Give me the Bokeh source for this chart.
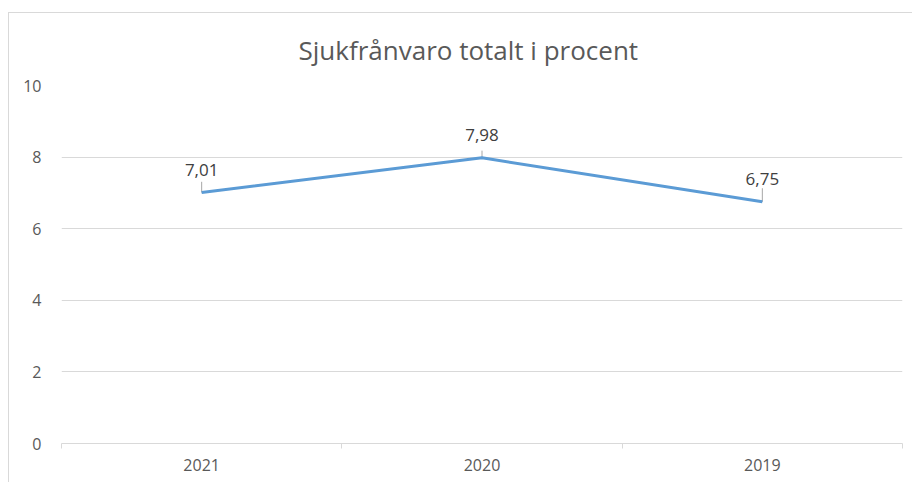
from bokeh.plotting import figure
from bokeh.models import ColumnDataSource, FixedTicker, Range1d
from bokeh.embed import file_html
from bokeh.resources import INLINE
from bokeh.core.properties import value

# Data
years = ["2021", "2020", "2019"]
sick_leave = [7.01, 7.98, 6.75]
labels = ["7,01", "7,98", "6,75"]
y_ticks = [0, 2, 4, 6, 8, 10]
leader_len = [0.3, 0.2, 0.38]

xs = [i + 0.5 for i in range(len(years))]
src = ColumnDataSource(dict(x=xs, y=sick_leave, label=labels))

FONT = "Open Sans"
GRAY = "#595959"

p = figure(width=904, height=470, output_backend="svg", toolbar_location=None,
           x_range=Range1d(0, len(years)), y_range=Range1d(0, 10),
           min_border_left=53, min_border_right=10, min_border_top=71, min_border_bottom=39,
           border_fill_color=None, outline_line_color=None,
           title="Sjukfrånvaro totalt i procent")
p.styles = {"margin-left": "8px", "margin-top": "12px",
            "box-shadow": "inset 1px 1px 0 #d9d9d9"}

p.title.align = "left"
p.title.offset = 237
p.title.text_font = FONT
p.title.text_font_size = "26px"
p.title.text_font_style = "normal"
p.title.text_color = GRAY
p.title.standoff = 35

# y axis
p.yaxis.ticker = FixedTicker(ticks=y_ticks)
p.yaxis.axis_line_color = None
p.yaxis.major_tick_line_color = None
p.yaxis.minor_tick_line_color = None
p.yaxis.major_label_text_font = FONT
p.yaxis.major_label_text_font_size = "16px"
p.yaxis.major_label_text_color = GRAY
p.yaxis.major_label_standoff = 14

# x axis
p.xaxis.ticker = FixedTicker(ticks=xs, minor_ticks=list(range(len(years) + 1)))
p.xaxis.major_label_overrides = {x: y for x, y in zip(xs, years)}
p.xaxis.axis_line_color = "#d9d9d9"
p.xaxis.major_tick_line_color = None
p.xaxis.minor_tick_line_color = "#d9d9d9"
p.xaxis.minor_tick_out = 5
p.xaxis.minor_tick_in = 0
p.xaxis.major_label_text_font = FONT
p.xaxis.major_label_text_font_size = "16px"
p.xaxis.major_label_text_color = GRAY
p.xaxis.major_label_standoff = 9

p.xgrid.grid_line_color = None
p.ygrid.ticker = FixedTicker(ticks=y_ticks)
p.ygrid.grid_line_color = "#d9d9d9"

# leader lines for data labels
lead = ColumnDataSource(dict(x=xs, y0=sick_leave,
                             y1=[v + d for v, d in zip(sick_leave, leader_len)]))
p.segment(x0="x", y0="y0", x1="x", y1="y1", source=lead, line_color="#a6a6a6", line_width=1)

p.line("x", "y", source=src, line_color="#5b9bd5", line_width=3)

p.text("x", "y", text="label", source=src, text_align="center", text_baseline="middle",
       y_offset=-23, text_font=value(FONT), text_font_size="17px", text_color="#404040")

open("out.html", "w").write(file_html(p, INLINE))
